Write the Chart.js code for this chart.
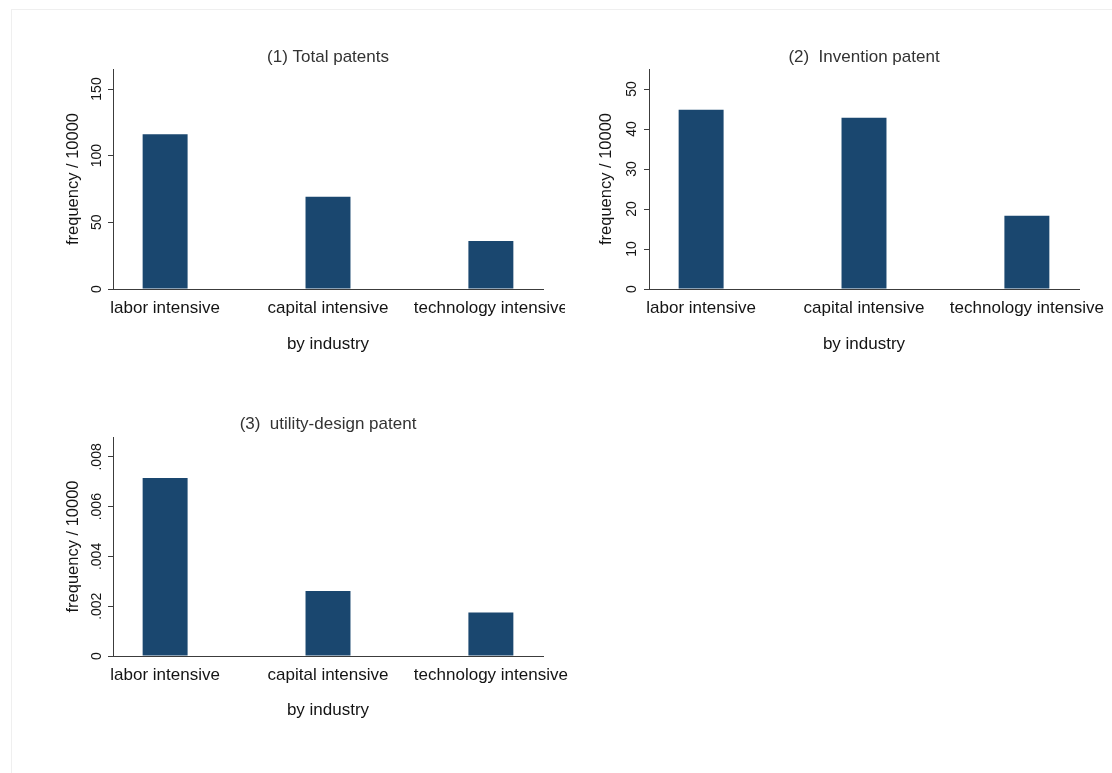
<!DOCTYPE html>
<html>
<head>
<meta charset="utf-8">
<script src="https://cdn.jsdelivr.net/npm/chart.js@4/dist/chart.umd.min.js"></script>
<style>
  html, body { margin: 0; padding: 0; background: #ffffff; }
  body { width: 1112px; height: 773px; position: relative; overflow: hidden; }
  .frame { position: absolute; left: 11px; top: 9px; width: 1110px; height: 770px;
           border: 1px solid #efefef; box-sizing: border-box; }
  canvas { position: absolute; }
</style>
</head>
<body>
<div class="frame"></div>
<canvas id="totalChart" width="565" height="365" style="left:0px; top:0px"></canvas>
<canvas id="inventionChart" width="546" height="365" style="left:566px; top:0px"></canvas>
<canvas id="utilityChart" width="600" height="406" style="left:0px; top:367px"></canvas>

<script>
// Industry groups on the category axis
const industries = ['labor intensive', 'capital intensive', 'technology intensive'];

// Patent frequency per 10000, by industry
const totalPatents = [116, 69.2, 36];
const inventionPatents = [44.8, 42.8, 18.3];
const utilityDesignPatents = [0.00715, 0.00261, 0.00175];

// Value-axis ticks for each panel
const totalTicks = [0, 50, 100, 150];
const inventionTicks = [0, 10, 20, 30, 40, 50];
const utilityTicks = [0, 0.002, 0.004, 0.006, 0.008];

// Panel titles and axis titles
const panelTitles = ['(1) Total patents', '(2)  Invention patent', '(3)  utility-design patent'];
const yAxisTitle = 'frequency / 10000';
const xAxisTitle = 'by industry';

Chart.defaults.font.family = "'Liberation Sans', Arial, Helvetica, sans-serif";
Chart.defaults.animation = false;

const BAR_COLOR = '#1a476f';
const AXIS_COLOR = '#3c3c3c';
const TEXT_COLOR = '#141414';

// Stata-style number labels: ".002" rather than "0.002"
function fmtTick(v) {
  return String(v).replace(/^0\./, '.');
}

function buildPanel(canvasId, cfg) {
  const W = cfg.width, H = cfg.height;
  const titleLH = 17 * 1.2;
  const yTitleLH = 16.5 * 1.2;
  const xFontLH = 17 * 1.2;

  return new Chart(document.getElementById(canvasId), {
    type: 'bar',
    data: {
      datasets: [{
        data: cfg.values.map((v, i) => ({ x: i, y: v })),
        backgroundColor: BAR_COLOR,
        borderWidth: 0,
        barPercentage: 1,
        categoryPercentage: 0.276
      }]
    },
    options: {
      responsive: false,
      devicePixelRatio: 1,
      layout: { padding: { left: 0, right: W - cfg.areaRight, top: 0, bottom: 0 } },
      plugins: {
        legend: { display: false },
        tooltip: { enabled: false },
        title: {
          display: true,
          fullSize: false,
          text: cfg.title,
          color: '#333333',
          font: { size: 17, weight: 'normal' },
          padding: { top: cfg.titleY - titleLH / 2, bottom: cfg.areaTop - cfg.titleY - titleLH / 2 }
        }
      },
      scales: {
        x: {
          type: 'linear',
          offset: false,
          min: -0.32,
          max: 2.32,
          afterBuildTicks: s => { s.ticks = industries.map((_, i) => ({ value: i })); },
          afterFit: s => { s.height = H - cfg.areaBottom; s.paddingLeft = 0; s.paddingRight = 0; },
          grid: { display: false, drawTicks: false, offset: false },
          border: { display: true, color: AXIS_COLOR, width: 1 },
          ticks: {
            autoSkip: false,
            minRotation: 0,
            maxRotation: 0,
            padding: 9,
            color: TEXT_COLOR,
            font: { size: 17 },
            callback: v => industries[v]
          },
          title: {
            display: true,
            text: xAxisTitle,
            color: TEXT_COLOR,
            font: { size: 17 },
            padding: { top: 0, bottom: H - cfg.xTitleY - xFontLH / 2 }
          }
        },
        y: {
          type: 'linear',
          min: 0,
          max: cfg.yMax,
          afterBuildTicks: s => { s.ticks = cfg.ticks.map(v => ({ value: v })); },
          afterFit: s => { s.width = cfg.areaLeft; s.paddingTop = 0; s.paddingBottom = 0; },
          grid: { drawOnChartArea: false, drawTicks: true, tickLength: 5, color: AXIS_COLOR, lineWidth: 1 },
          border: { display: true, color: AXIS_COLOR, width: 1 },
          ticks: {
            minRotation: 90,
            maxRotation: 90,
            crossAlign: 'center',
            padding: cfg.tickPad,
            color: TEXT_COLOR,
            font: { size: 14 },
            callback: v => fmtTick(v)
          },
          title: {
            display: true,
            text: yAxisTitle,
            color: TEXT_COLOR,
            font: { size: 16.5 },
            padding: { top: cfg.yTitleX - yTitleLH / 2, bottom: 0 }
          }
        }
      }
    }
  });
}

buildPanel('totalChart', {
  width: 565, height: 365,
  areaLeft: 113, areaRight: 543, areaTop: 69, areaBottom: 289,
  titleY: 57, xTitleY: 344, yTitleX: 73, tickPad: -0.7,
  title: panelTitles[0], values: totalPatents, ticks: totalTicks, yMax: 165
});

buildPanel('inventionChart', {
  width: 546, height: 365,
  areaLeft: 83, areaRight: 513, areaTop: 69, areaBottom: 289,
  titleY: 57, xTitleY: 344, yTitleX: 40.5, tickPad: 3.7,
  title: panelTitles[1], values: inventionPatents, ticks: inventionTicks, yMax: 55
});

buildPanel('utilityChart', {
  width: 600, height: 406,
  areaLeft: 113, areaRight: 543, areaTop: 70, areaBottom: 289,
  titleY: 57, xTitleY: 343, yTitleX: 73, tickPad: -2.6,
  title: panelTitles[2], values: utilityDesignPatents, ticks: utilityTicks, yMax: 0.0088
});
</script>
</body>
</html>
